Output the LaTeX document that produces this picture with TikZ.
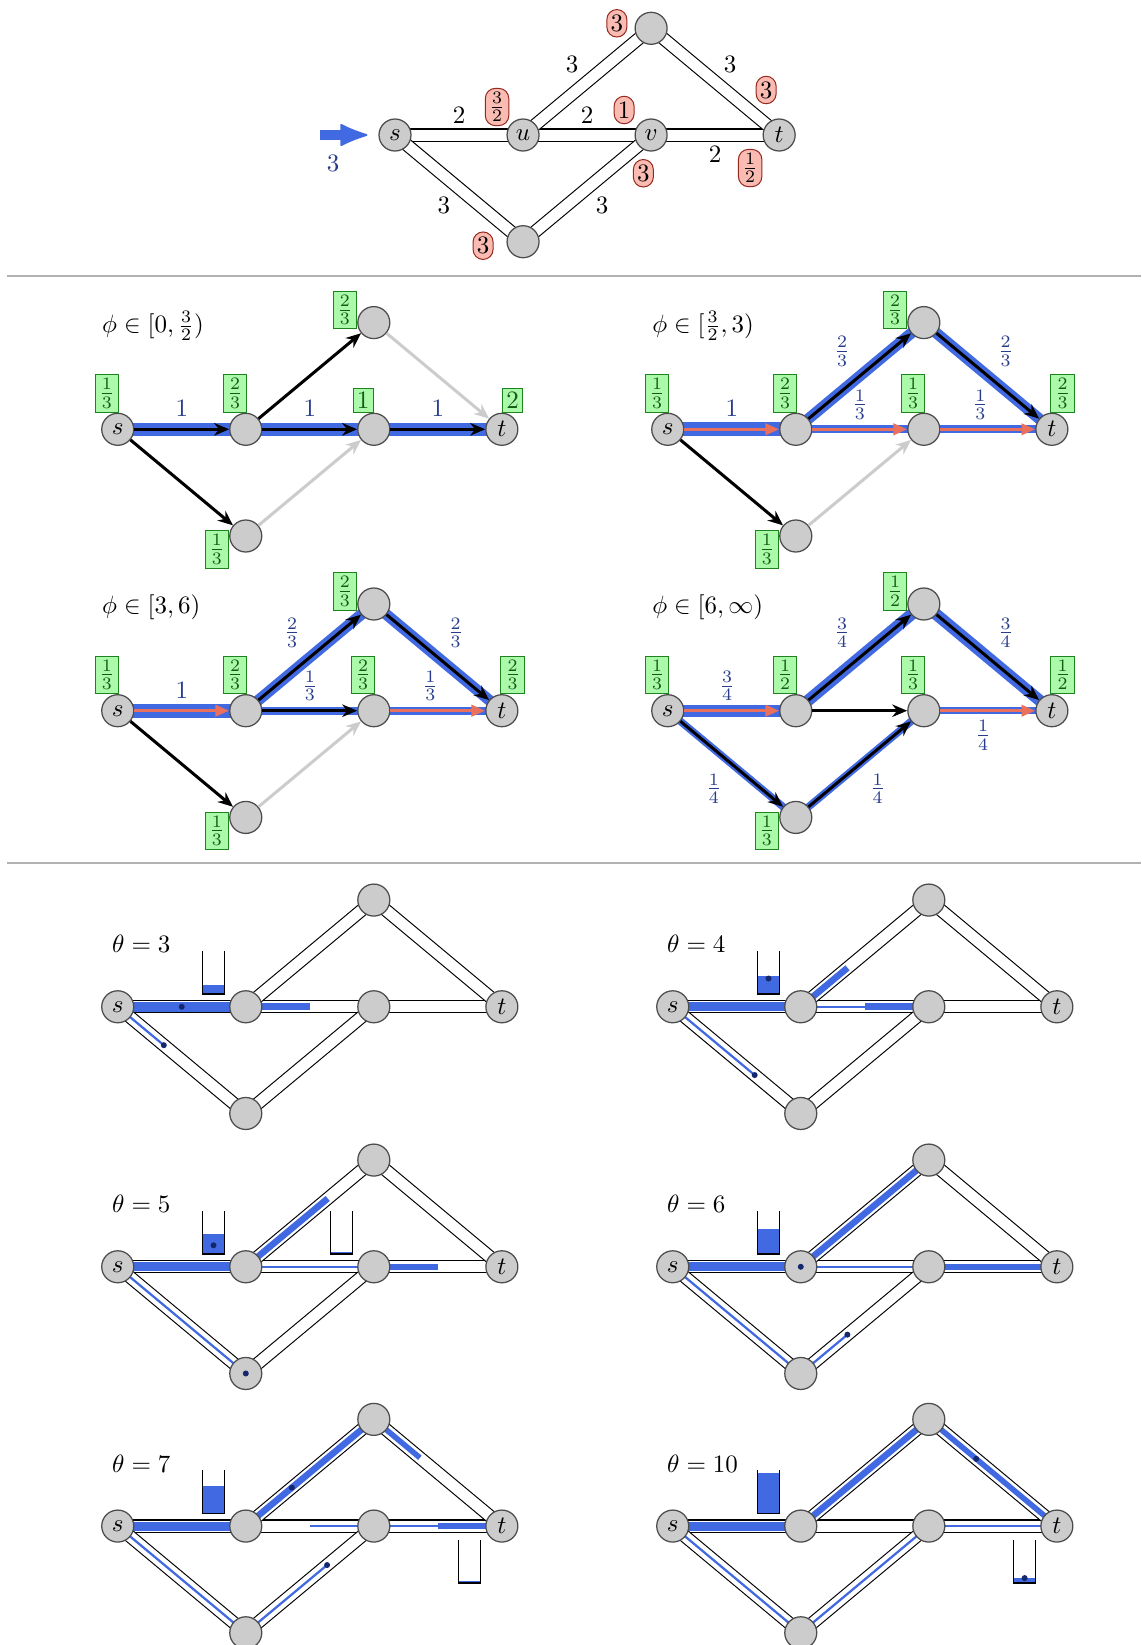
\documentclass[tikz,border=0pt]{standalone}
\usetikzlibrary{arrows.meta,calc,backgrounds}

\definecolor{flowblue}{RGB}{65,105,225}
\definecolor{lblblue}{RGB}{40,60,140}
\definecolor{dotblue}{RGB}{20,40,110}
\definecolor{salmon}{RGB}{232,112,92}
\definecolor{boxfill}{RGB}{170,250,170}
\definecolor{boxline}{RGB}{30,130,30}
\definecolor{boxtext}{RGB}{20,90,20}
\definecolor{capfill}{RGB}{250,188,178}
\definecolor{capline}{RGB}{150,40,30}

\tikzset{
  vtx/.style={circle,draw=black!70,fill=black!20,line width=0.5pt,minimum size=12.8pt,inner sep=0pt,label distance=2pt},
  pipe/.style={draw=black,line width=0.45pt,double=white,double distance=4.4pt},
  water/.style={draw=flowblue,line width=#1},
  water/.default=0.9pt,
  blk/.style={line width=1.2pt,-{Stealth[length=6pt,width=5pt]}},
  faint/.style={blk,draw=black!20},
  sal/.style={draw=salmon,line width=1.2pt,-{Triangle[length=5.5pt,width=4.5pt]}},
  gbox/.style={draw=boxline,fill=boxfill,text=boxtext,inner sep=1.5pt,line width=0.4pt},
  capbox/.style={draw=capline,fill=capfill,rounded corners=4pt,inner sep=1.5pt,minimum height=11pt,minimum width=8pt,line width=0.4pt},
  fl/.style={text=lblblue},
  phase/.style={anchor=west,inner sep=0pt},
  tankwall/.style={line width=0.5pt},
  inflow/.style={draw=flowblue,line width=4pt,-{Latex[length=12pt,width=9.5pt,round,line width=0.8pt]},shorten >=4.4pt},
  rule/.style={draw=black!30,line width=0.6pt}
}

% network with green node labels (s,u,v,t,top,bottom)
\newcommand{\flownet}[6]{%
  \node[vtx,label={[gbox,xshift=-4.3pt]above:$#1$}] (s) at (0,0) {$s$};
  \node[vtx,label={[gbox,xshift=-4.3pt]above:$#2$}] (u) at (1.8,0) {};
  \node[vtx,label={[gbox,xshift=-4.3pt]above:$#3$}] (v) at (3.6,0) {};
  \node[vtx,label={[gbox,xshift=4.3pt]above:$#4$}] (t) at (5.4,0) {$t$};
  \node[vtx,label={[gbox,yshift=5pt]left:$#5$}] (a) at (3.6,1.5) {};
  \node[vtx,label={[gbox,yshift=-5.4pt]left:$#6$}] (b) at (1.8,-1.5) {};
}
% network drawn as pipes
\newcommand{\pipenet}{%
  \node[vtx] (s) at (0,0) {$s$};
  \node[vtx] (u) at (1.8,0) {};
  \node[vtx] (v) at (3.6,0) {};
  \node[vtx] (t) at (5.4,0) {$t$};
  \node[vtx] (a) at (3.6,1.5) {};
  \node[vtx] (b) at (1.8,-1.5) {};
  \begin{scope}[on background layer]
    \foreach \p/\q in {s/u,u/v,v/t,u/a,a/t,s/b,b/v}
      \draw[pipe] (\p.center) -- (\q.center);
  \end{scope}
}
\newcommand{\wseg}[5][0.9pt]{\draw[water=#1] ($(#2)!#4!(#3)$) -- ($(#2)!#5!(#3)$);}
\newcommand{\wdrop}[1]{\fill[dotblue] (#1) circle (1.2pt);}
% queue: node, bottom offset, level
\newcommand{\wtank}[3]{%
  \fill[flowblue] ([shift={(-17.2pt,#2)}]#1.center) rectangle ([shift={(-8.6pt,#2+#3)}]#1.center);
  \draw[tankwall] ([shift={(-17.2pt,#2+17.2pt)}]#1.center) -- ([shift={(-17.2pt,#2)}]#1.center)
    -- ([shift={(-8.6pt,#2)}]#1.center) -- ([shift={(-8.6pt,#2+17.2pt)}]#1.center);
}

\begin{document}
\begin{tikzpicture}
\begin{scope}[on background layer]
  \fill[white] (0,0) rectangle (16.04,-23.125);
\end{scope}
\useasboundingbox (0,0) rectangle (16.04,-23.125);

% the instance
\begin{scope}[shift={(5.553,-1.898)}]
  \node[vtx] (s) at (0,0) {$s$};
  \node[vtx] (u) at (1.8,0) {$u$};
  \node[vtx] (v) at (3.6,0) {$v$};
  \node[vtx] (t) at (5.4,0) {$t$};
  \node[vtx] (a) at (3.6,1.5) {};
  \node[vtx] (b) at (1.8,-1.5) {};
  \begin{scope}[on background layer]
    \foreach \p/\q in {s/u,u/v,v/t,u/a,a/t,s/b,b/v}
      \draw[pipe] (\p.center) -- (\q.center);
  \end{scope}
  \path (s) -- (u) node[midway,above=1pt] {$2$};
  \path (u) -- (v) node[midway,above=1pt] {$2$};
  \path (v) -- (t) node[midway,below=1pt] {$2$};
  \path (u) -- (a) node[midway,above left] {$3$};
  \path (a) -- (t) node[midway,above right] {$3$};
  \path (s) -- (b) node[midway,below left] {$3$};
  \path (b) -- (v) node[midway,below right] {$3$};
  \node[capbox] (csu) at ([shift={(-10.4pt,11.2pt)}]u.center) {$\frac{3}{2}$};
  \node[capbox] (cuv) at ([shift={(-10.8pt,10pt)}]v.center) {$1$};
  \node[capbox] (cua) at ([shift={(-13.7pt,2pt)}]a.center) {$3$};
  \node[capbox] (cat) at ([shift={(-5.2pt,18pt)}]t.center) {$3$};
  \node[capbox] (cvt) at ([shift={(-11.6pt,-13.2pt)}]t.center) {$\frac{1}{2}$};
  \node[capbox] (cbv) at ([shift={(-3.1pt,-15.3pt)}]v.center) {$3$};
  \node[capbox] (csb) at ([shift={(-16pt,-1.6pt)}]b.center) {$3$};
  \coordinate (src) at ([xshift=-30pt]s.center);
  \draw[inflow] (src) -- (s);
  \node[fl] (rate) at ([shift={(-24.8pt,-11.2pt)}]s.center) {$3$};
\end{scope}

\draw[rule] (0.1,-3.88) -- (16.04,-3.88);

% phi in [0,3/2)
\begin{scope}[shift={(1.655,-6.035)}]
  \flownet{\frac13}{\frac23}{1}{2}{\frac23}{\frac13}
  \node[phase] (ph1) at ([shift={(-6.4pt,41.3pt)}]s.center) {$\phi\in[0,\frac{3}{2})$};
  \begin{scope}[on background layer]
    \draw[water=5.4pt] (s.center) -- (u.center);
    \draw[water=5.4pt] (u.center) -- (v.center);
    \draw[water=5.4pt] (v.center) -- (t.center);
  \end{scope}
  \draw[blk] (s) -- (u) node[fl,midway,above=1pt] {$1$};
  \draw[blk] (u) -- (v) node[fl,midway,above=1pt] {$1$};
  \draw[blk] (v) -- (t) node[fl,midway,above=1pt] {$1$};
  \draw[blk] (u) -- (a);
  \draw[blk] (s) -- (b);
  \draw[faint] (a) -- (t);
  \draw[faint] (b) -- (v);
\end{scope}

% phi in [3/2,3)
\begin{scope}[shift={(9.387,-6.035)}]
  \flownet{\frac13}{\frac23}{\frac13}{\frac23}{\frac23}{\frac13}
  \node[phase] (ph2) at ([shift={(-6.4pt,41.3pt)}]s.center) {$\phi\in[\frac{3}{2},3)$};
  \begin{scope}[on background layer]
    \draw[water=5.6pt] (s.center) -- (u.center);
    \draw[water=4.4pt] (u.center) -- (a.center);
    \draw[water=4.4pt] (a.center) -- (t.center);
    \draw[water=3.3pt] (u.center) -- (v.center);
    \draw[water=3.3pt] (v.center) -- (t.center);
  \end{scope}
  \draw[sal] (s) -- (u) node[fl,midway,above=1pt] {$1$};
  \draw[sal] (u) -- (v) node[fl,midway,above] {$\frac13$};
  \draw[sal] (v) -- (t) node[fl,pos=0.42,above] {$\frac13$};
  \draw[blk] (u) -- (a) node[fl,midway,above left] {$\frac23$};
  \draw[blk] (a) -- (t) node[fl,midway,above right] {$\frac23$};
  \draw[blk] (s) -- (b);
  \draw[faint] (b) -- (v);
\end{scope}

% phi in [3,6)
\begin{scope}[shift={(1.655,-9.991)}]
  \flownet{\frac13}{\frac23}{\frac23}{\frac23}{\frac23}{\frac13}
  \node[phase] (ph3) at ([shift={(-6.4pt,41.3pt)}]s.center) {$\phi\in[3,6)$};
  \begin{scope}[on background layer]
    \draw[water=5.6pt] (s.center) -- (u.center);
    \draw[water=4.4pt] (u.center) -- (a.center);
    \draw[water=4.4pt] (a.center) -- (t.center);
    \draw[water=3.3pt] (u.center) -- (v.center);
    \draw[water=3.3pt] (v.center) -- (t.center);
  \end{scope}
  \draw[sal] (s) -- (u) node[fl,midway,above=1pt] {$1$};
  \draw[blk] (u) -- (v) node[fl,midway,above] {$\frac13$};
  \draw[sal] (v) -- (t) node[fl,pos=0.42,above] {$\frac13$};
  \draw[blk] (u) -- (a) node[fl,midway,above left] {$\frac23$};
  \draw[blk] (a) -- (t) node[fl,midway,above right] {$\frac23$};
  \draw[blk] (s) -- (b);
  \draw[faint] (b) -- (v);
\end{scope}

% phi in [6,infty)
\begin{scope}[shift={(9.387,-9.991)}]
  \flownet{\frac13}{\frac12}{\frac13}{\frac12}{\frac12}{\frac13}
  \node[phase] (ph4) at ([shift={(-6.4pt,41.3pt)}]s.center) {$\phi\in[6,\infty)$};
  \begin{scope}[on background layer]
    \draw[water=4.7pt] (s.center) -- (u.center);
    \draw[water=4.7pt] (u.center) -- (a.center);
    \draw[water=4.7pt] (a.center) -- (t.center);
    \draw[water=3pt] (v.center) -- (t.center);
    \draw[water=3pt] (s.center) -- (b.center);
    \draw[water=3pt] (b.center) -- (v.center);
  \end{scope}
  \draw[sal] (s) -- (u) node[fl,pos=0.45,above] {$\frac34$};
  \draw[sal] (v) -- (t) node[fl,pos=0.45,below] {$\frac14$};
  \draw[blk] (u) -- (a) node[fl,midway,above left] {$\frac34$};
  \draw[blk] (a) -- (t) node[fl,midway,above right] {$\frac34$};
  \draw[blk] (u) -- (v);
  \draw[blk] (s) -- (b) node[fl,midway,below left] {$\frac14$};
  \draw[blk] (b) -- (v) node[fl,midway,below right] {$\frac14$};
\end{scope}

\draw[rule] (0.1,-12.132) -- (16.04,-12.132);

% theta = 3
\begin{scope}[shift={(1.655,-14.153)}]
  \pipenet
  \node[phase] (th3) at ([shift={(-2.4pt,25.1pt)}]s.center) {$\theta=3$};
  \begin{scope}[on background layer]
    \wseg[4.2pt]{s}{u}{0}{1}
    \wseg{s}{b}{0}{0.36}
    \wseg[2.8pt]{u}{v}{0}{0.5}
  \end{scope}
  \wdrop{$(s)!0.5!(u)$}
  \wdrop{$(s)!0.36!(b)$}
  \wtank{u}{5.1pt}{3.6pt}
\end{scope}

% theta = 4
\begin{scope}[shift={(9.457,-14.153)}]
  \pipenet
  \node[phase] (th4) at ([shift={(-2.4pt,25.1pt)}]s.center) {$\theta=4$};
  \begin{scope}[on background layer]
    \wseg[3.6pt]{s}{u}{0}{1}
    \wseg[2.6pt]{u}{a}{0}{0.365}
    \wseg{u}{v}{0}{0.5}
    \wseg[2.8pt]{u}{v}{0.5}{1}
    \wseg{s}{b}{0}{0.64}
  \end{scope}
  \wdrop{$(s)!0.64!(b)$}
  \wtank{u}{5.1pt}{7.2pt}
  \wdrop{[shift={(-12.9pt,11.3pt)}]u.center}
\end{scope}

% theta = 5
\begin{scope}[shift={(1.655,-17.808)}]
  \pipenet
  \node[phase] (th5) at ([shift={(-2.4pt,25.1pt)}]s.center) {$\theta=5$};
  \begin{scope}[on background layer]
    \wseg[3.6pt]{s}{u}{0}{1}
    \wseg[2.6pt]{u}{a}{0}{0.64}
    \wseg{u}{v}{0}{1}
    \wseg[2.2pt]{v}{t}{0}{0.5}
    \wseg{s}{b}{0}{1}
  \end{scope}
  \wdrop{b.center}
  \wtank{u}{5.1pt}{7.9pt}
  \wdrop{[shift={(-12.9pt,8.6pt)}]u.center}
  \wtank{v}{5.1pt}{0.8pt}
\end{scope}

% theta = 6
\begin{scope}[shift={(9.457,-17.808)}]
  \pipenet
  \node[phase] (th6) at ([shift={(-2.4pt,25.1pt)}]s.center) {$\theta=6$};
  \begin{scope}[on background layer]
    \wseg[3.6pt]{s}{u}{0}{1}
    \wseg[2.6pt]{u}{a}{0}{1}
    \wseg{u}{v}{0}{1}
    \wseg[2.2pt]{v}{t}{0}{1}
    \wseg{s}{b}{0}{1}
    \wseg{b}{v}{0}{0.364}
  \end{scope}
  \wdrop{u.center}
  \wdrop{$(b)!0.364!(v)$}
  \wtank{u}{5.1pt}{10pt}
\end{scope}

% theta = 7
\begin{scope}[shift={(1.655,-21.453)}]
  \pipenet
  \node[phase] (th7) at ([shift={(-2.4pt,25.1pt)}]s.center) {$\theta=7$};
  \begin{scope}[on background layer]
    \wseg[3.6pt]{s}{u}{0}{1}
    \wseg[2.6pt]{u}{a}{0}{1}
    \wseg[2.2pt]{a}{t}{0}{0.36}
    \wseg{u}{v}{0.5}{1}
    \wseg{v}{t}{0}{0.5}
    \wseg[2.2pt]{v}{t}{0.5}{1}
    \wseg{s}{b}{0}{1}
    \wseg{b}{v}{0}{0.635}
  \end{scope}
  \wdrop{$(u)!0.36!(a)$}
  \wdrop{$(b)!0.635!(v)$}
  \wtank{u}{5.1pt}{10.8pt}
  \wtank{t}{-22.8pt}{0.8pt}
\end{scope}

% theta = 10
\begin{scope}[shift={(9.457,-21.453)}]
  \pipenet
  \node[phase] (th10) at ([shift={(-2.4pt,25.1pt)}]s.center) {$\theta=10$};
  \begin{scope}[on background layer]
    \wseg[3.6pt]{s}{u}{0}{1}
    \wseg[2.6pt]{u}{a}{0}{1}
    \wseg[2.2pt]{a}{t}{0}{1}
    \wseg{v}{t}{0}{1}
    \wseg{s}{b}{0}{1}
    \wseg{b}{v}{0}{1}
  \end{scope}
  \wdrop{$(a)!0.37!(t)$}
  \wtank{u}{5.1pt}{16pt}
  \wtank{t}{-22.8pt}{2pt}
  \wdrop{[shift={(-12.9pt,-20.8pt)}]t.center}
\end{scope}
\end{tikzpicture}
\end{document}
